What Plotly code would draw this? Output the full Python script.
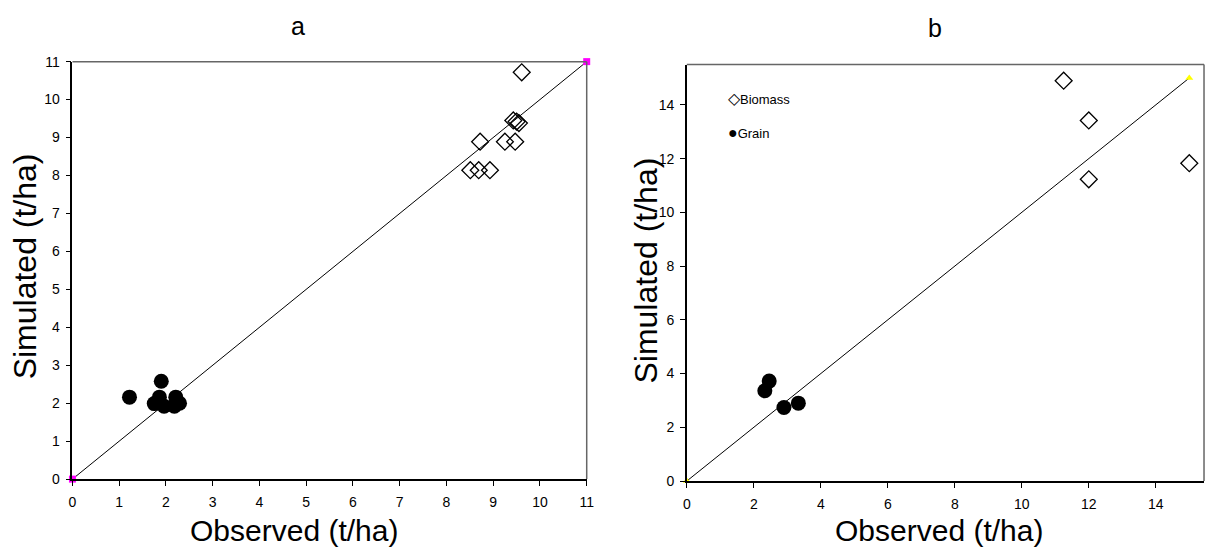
import plotly.graph_objects as go

# ---- Panel a data ----
a_biomass_obs = [9.61, 9.43, 9.50, 9.55, 8.72, 9.25, 9.47, 8.51, 8.69, 8.93]
a_biomass_sim = [10.72, 9.45, 9.42, 9.38, 8.89, 8.89, 8.89, 8.14, 8.14, 8.14]
a_grain_obs = [1.22, 1.90, 1.86, 1.75, 1.96, 2.21, 2.18, 2.29]
a_grain_sim = [2.16, 2.58, 2.16, 1.99, 1.92, 2.16, 1.92, 2.00]
a_line = [0, 11]

# ---- Panel b data ----
b_biomass_obs = [11.25, 12.0, 12.0, 15.0]
b_biomass_sim = [14.9, 13.42, 11.23, 11.83]
b_grain_obs = [2.46, 2.33, 2.90, 3.33]
b_grain_sim = [3.72, 3.36, 2.74, 2.90]
b_line = [0, 15]

a_ticks = list(range(0, 12))
b_ticks = list(range(0, 16, 2))

legend_names = ["Biomass", "Grain"]
legend_glyphs = ["\u25c7", "\u25cf"]

FONT = "Liberation Sans, Arial, sans-serif"
OFF = 8  # page body margin
WF, HF = 1213 - OFF, 558 - OFF


def px(X):
    return (X - OFF) / WF


def py(Y):
    return 1 - (Y - OFF) / HF


fig = go.Figure()

diamond = dict(symbol="diamond-open", size=13, color="black", line=dict(width=1.3, color="black"))
circle = dict(symbol="circle", size=15, color="black")

# Panel a
fig.add_trace(go.Scatter(x=a_line, y=a_line, mode="lines+markers", line=dict(color="black", width=1),
                         marker=dict(symbol="square", size=7, color="#ff00ff"), cliponaxis=False,
                         showlegend=False, xaxis="x", yaxis="y"))
fig.add_trace(go.Scatter(x=a_biomass_obs, y=a_biomass_sim, mode="markers", marker=diamond,
                         showlegend=False, xaxis="x", yaxis="y"))
fig.add_trace(go.Scatter(x=a_grain_obs, y=a_grain_sim, mode="markers", marker=circle,
                         showlegend=False, xaxis="x", yaxis="y"))

# Panel b
fig.add_trace(go.Scatter(x=b_line, y=b_line, mode="lines+markers", line=dict(color="black", width=1),
                         marker=dict(symbol="triangle-up", size=7, color="#ffff00"), cliponaxis=False,
                         showlegend=False, xaxis="x2", yaxis="y2"))
fig.add_trace(go.Scatter(x=b_biomass_obs, y=b_biomass_sim, mode="markers", marker=diamond,
                         showlegend=False, xaxis="x2", yaxis="y2"))
fig.add_trace(go.Scatter(x=b_grain_obs, y=b_grain_sim, mode="markers", marker=circle,
                         showlegend=False, xaxis="x2", yaxis="y2"))

axis_common = dict(showgrid=False, zeroline=False, showline=True, linecolor="black", linewidth=1.5,
                   ticks="outside", ticklen=5, tickcolor="black", tickwidth=1,
                   tickfont=dict(family=FONT, size=14, color="black"))
xstyle = dict(axis_common, ticklabelstandoff=4)
ystyle = dict(axis_common, ticklabelstandoff=3)

fig.update_layout(
    width=WF, height=HF,
    margin=dict(l=0, r=0, t=0, b=0),
    paper_bgcolor="white", plot_bgcolor="white",
    font=dict(family=FONT, color="black"),
    showlegend=False,
    xaxis=dict(domain=[px(69), px(588)], range=[0, 11], tickvals=a_ticks, anchor="y", **xstyle),
    yaxis=dict(domain=[py(485), py(55)], range=[0, 11], tickvals=a_ticks, anchor="x", **ystyle),
    xaxis2=dict(domain=[px(689), px(1211)], range=[0, 15.44], tickvals=b_ticks, anchor="y2", **xstyle),
    yaxis2=dict(domain=[py(487), py(58)], range=[0, 15.5], tickvals=b_ticks, anchor="x2", **ystyle),
)

# gray top/right frame lines
for xr, yr in (("x", "y"), ("x2", "y2")):
    fig.add_shape(type="line", xref=f"{xr} domain", yref=f"{yr} domain", x0=0, x1=1, y0=1, y1=1,
                  line=dict(color="#666666", width=1.5))
    fig.add_shape(type="line", xref=f"{xr} domain", yref=f"{yr} domain", x0=1, x1=1, y0=0, y1=1,
                  line=dict(color="#666666", width=1.5))


def label(text, X, Y, size, angle=0, xanchor="center"):
    return dict(text=text, x=px(X), y=py(Y), xref="paper", yref="paper", showarrow=False,
                xanchor=xanchor, yanchor="middle", textangle=angle,
                font=dict(size=size, family=FONT, color="black"))


def legend_text(glyph, name):
    return f"<span style='font-size:16px'>{glyph}</span>{name}"


ann = [
    label("a", 297, 18, 25),
    label("b", 940, 20, 25),
    label("Observed (t/ha)", 293, 538, 30),
    label("Observed (t/ha)", 944, 538, 30),
    label("Simulated (t/ha)", 22, 266, 32, angle=-90),
    label("Simulated (t/ha)", 648, 270, 32, angle=-90),
    label(legend_text(legend_glyphs[0], legend_names[0]), 729, 93, 13, xanchor="left"),
    label(legend_text(legend_glyphs[1], legend_names[1]), 729, 128, 13, xanchor="left"),
]
fig.update_layout(annotations=ann)

fig.write_html("out.html")
